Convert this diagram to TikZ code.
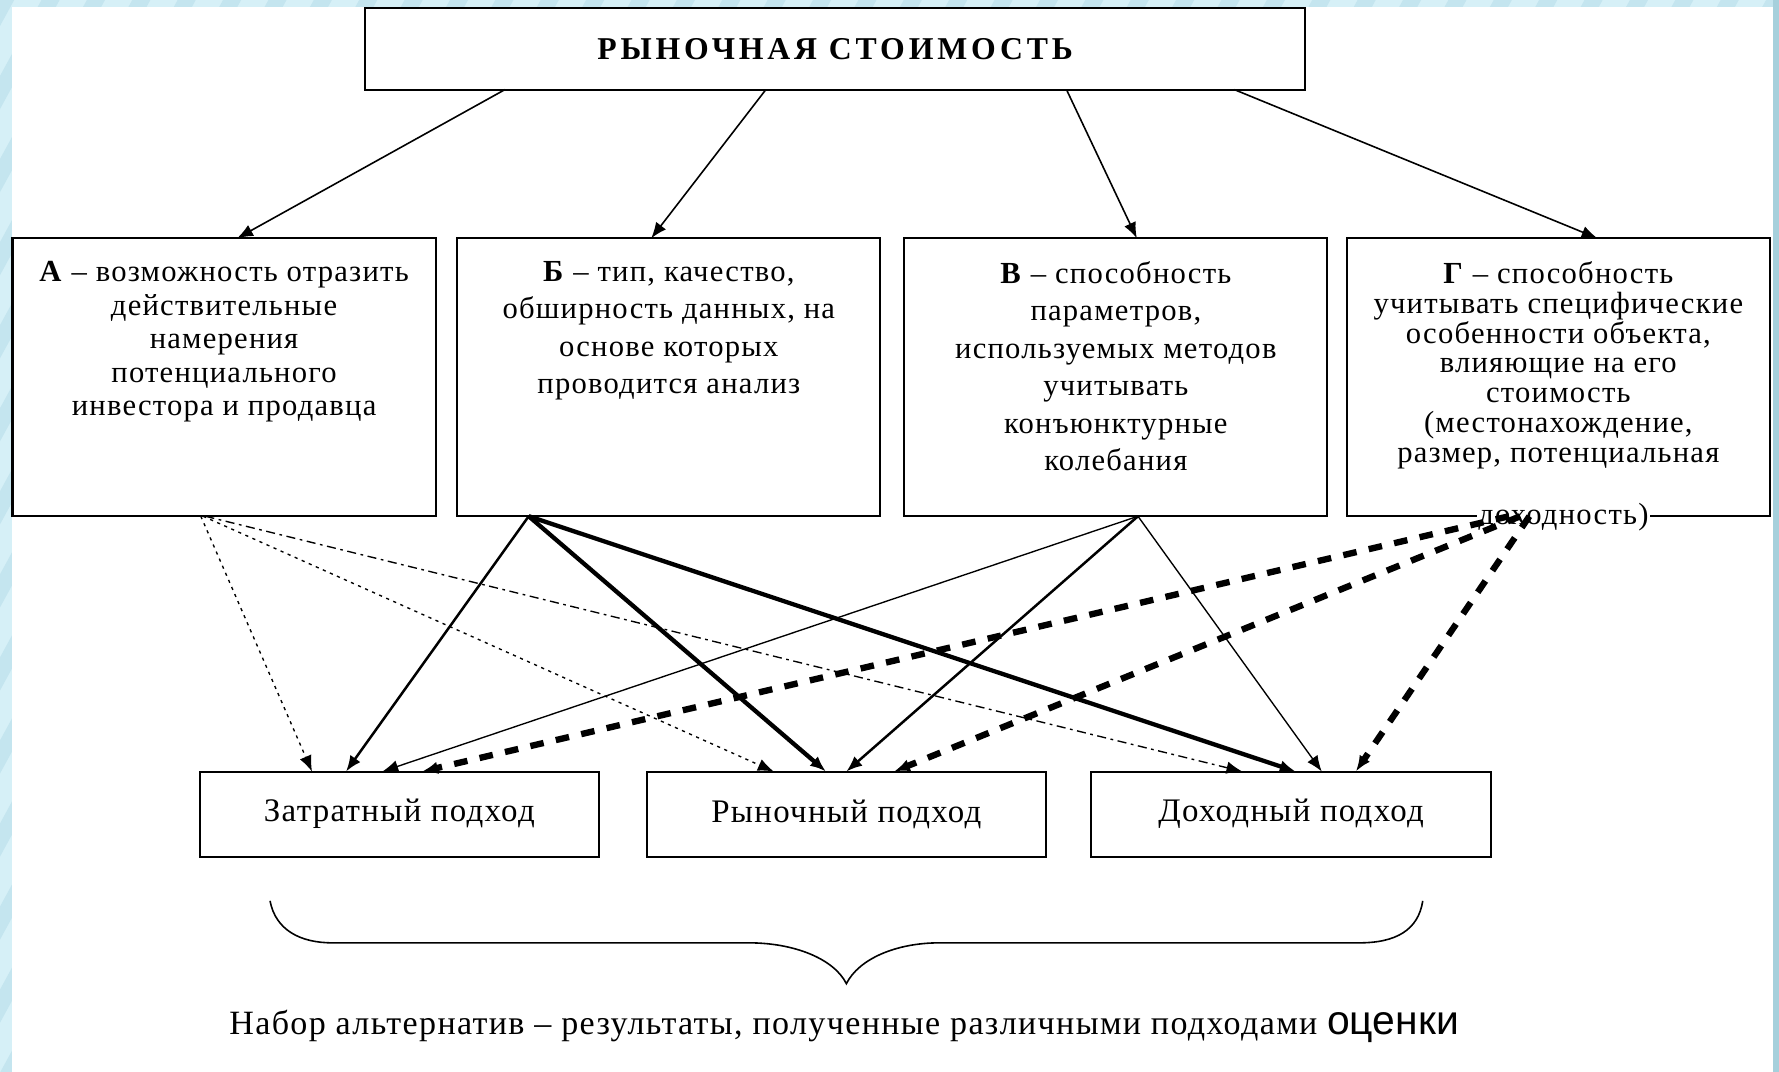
\documentclass[tikz,border=0pt]{standalone}
\usepackage{fontspec}
\setmainfont{Liberation Serif}[LetterSpace=4]
\newfontfamily\titlefont{Liberation Serif}[LetterSpace=12]
\newfontfamily\sansf{Liberation Sans}
\usetikzlibrary{arrows.meta}
\definecolor{bgblue}{RGB}{214,240,247}
\definecolor{stripeblue}{RGB}{196,229,239}
\definecolor{edgeblue}{RGB}{166,208,220}
\begin{document}
\begin{tikzpicture}[x=0.5pt,y=-0.5pt,
  box/.style={draw, line width=0.9pt, inner sep=0pt, outer sep=0pt, fill=white},
  btxt/.style={align=center, inner sep=0pt, anchor=north},
  tipa/.style={-{Latex[length=7pt,width=5.5pt]}},
  toparr/.style={tipa, line width=0.7pt},
  dotarr/.style={tipa, line width=0.6pt, dash pattern=on 1.4pt off 2pt},
  dasharr/.style={tipa, line width=0.6pt, dash pattern=on 4pt off 2pt on 1.2pt off 2pt},
  thinarr/.style={tipa, line width=0.6pt},
  midarr/.style={tipa, line width=1.1pt},
  thickarr/.style={tipa, line width=1.9pt},
  bigdash/.style={tipa, line width=2.8pt, dash pattern=on 6pt off 5.5pt}
]
\useasboundingbox (0,0) rectangle (1568,944);
% background
\begin{scope}
\clip (0,0) rectangle (1568,944);
\fill[bgblue] (-10,-10) rectangle (1580,960);
\foreach \i in {-600,-560,...,1600} \draw[stripeblue, line width=7pt] (\i,960) -- (\i+530,-10);
\fill[edgeblue] (1563,-10) rectangle (1580,960);
\fill[white] (10.5,6) rectangle (1563,960);
\end{scope}

% top box
\node[box, minimum width=414pt, minimum height=36pt,
      font=\titlefont\bfseries\fontsize{14}{16}\selectfont] (T) at (736,43) {РЫНОЧНАЯ СТОИМОСТЬ};

% criteria boxes
\node[box, minimum width=186.5pt, minimum height=122.5pt] (A) at (197.5,332.5) {};
\node[box, minimum width=186.5pt, minimum height=122.5pt] (B) at (589.5,332.5) {};
\node[box, minimum width=186.5pt, minimum height=122.5pt] (V) at (983.5,332.5) {};
\node[box, minimum width=186.5pt, minimum height=122.5pt] (G) at (1373.5,332.5) {};

\node[btxt, font=\fontsize{13.5}{14.75}\selectfont] (At) at (197.5,230)
  {\textbf{А} – возможность отразить\\действительные\\намерения\\потенциального\\инвестора и продавца};
\node[btxt, font=\fontsize{13.5}{16.5}\selectfont] (Bt) at (589.5,230)
  {\textbf{Б} – тип, качество,\\обширность данных, на\\основе которых\\проводится анализ};
\node[btxt, font=\fontsize{13.5}{16.5}\selectfont] (Vt) at (983.5,230)
  {\textbf{В} – способность\\параметров,\\используемых методов\\учитывать\\конъюнктурные\\колебания};
\node[btxt, font=\fontsize{13.5}{13.15}\selectfont] (Gt) at (1373.5,230)
  {\textbf{Г} – способность\\учитывать специфические\\особенности объекта,\\влияющие на его\\стоимость\\(местонахождение,\\размер, потенциальная};
\node[inner sep=0.5pt, fill=white, font=\fontsize{13.5}{14.75}\selectfont] (Gx) at (1378,456) {доходность)};

% approach boxes
\node[box, minimum width=176pt, minimum height=37.5pt, font=\fontsize{14.5}{16}\selectfont] (Z) at (352,717.5) {\raisebox{1.5pt}{Затратный подход}};
\node[box, minimum width=176pt, minimum height=37.5pt, font=\fontsize{14.5}{16}\selectfont] (R) at (746,717.5) {\raisebox{1.5pt}{Рыночный подход}};
\node[box, minimum width=176pt, minimum height=37.5pt, font=\fontsize{14.5}{16}\selectfont] (D) at (1138,717.5) {\raisebox{1.5pt}{Доходный подход}};

% top arrows
\draw[toparr] (T.south -| 445,0) -- (A.north -| 209,0);
\draw[toparr] (T.south -| 675,0) -- (B.north -| 574,0);
\draw[toparr] (T.south -| 940,0) -- (V.north -| 1002,0);
\draw[toparr] (T.south -| 1088,0) -- (G.north -| 1408,0);

% from A
\draw[dotarr] (A.south -| 177,0) -- (Z.north -| 275,0);
\draw[dotarr] (A.south -| 179,0) -- (R.north -| 682,0);
\draw[dasharr] (A.south -| 181,0) -- (D.north -| 1095,0);
% from B
\draw[midarr] (B.south -| 466,0) -- (Z.north -| 305,0);
\draw[thickarr] (B.south -| 466,0) -- (R.north -| 728,0);
\draw[thickarr] (B.south -| 466,0) -- (D.north -| 1142,0);
% from V
\draw[thinarr] (V.south -| 1003,0) -- (Z.north -| 337,0);
\draw[midarr] (V.south -| 1003,0) -- (R.north -| 746,0);
\draw[thinarr] (V.south -| 1003,0) -- (D.north -| 1165,0);
% from G
\draw[bigdash] (G.south -| 1330,0) -- (Z.north -| 372,0);
\draw[bigdash] (G.south -| 1340,0) -- (R.north -| 788,0);
\draw[bigdash] (G.south -| 1348,0) -- (D.north -| 1195,0);

% brace
\draw[line width=0.7pt] (238,794) .. controls (243,820) and (265,831) .. (293,831)
  -- (660,831) .. controls (700,831) and (735,845) .. (746,867)
  .. controls (757,845) and (790,831) .. (828,831)
  -- (1198,831) .. controls (1230,831) and (1250,820) .. (1254,794);

\node[font=\fontsize{15}{17}\selectfont, inner sep=0pt] (N) at (744,905)
  {Набор альтернатив – результаты, полученные различными подходами {\sansf\fontsize{18}{20}\selectfont оценки}};
\end{tikzpicture}
\end{document}
